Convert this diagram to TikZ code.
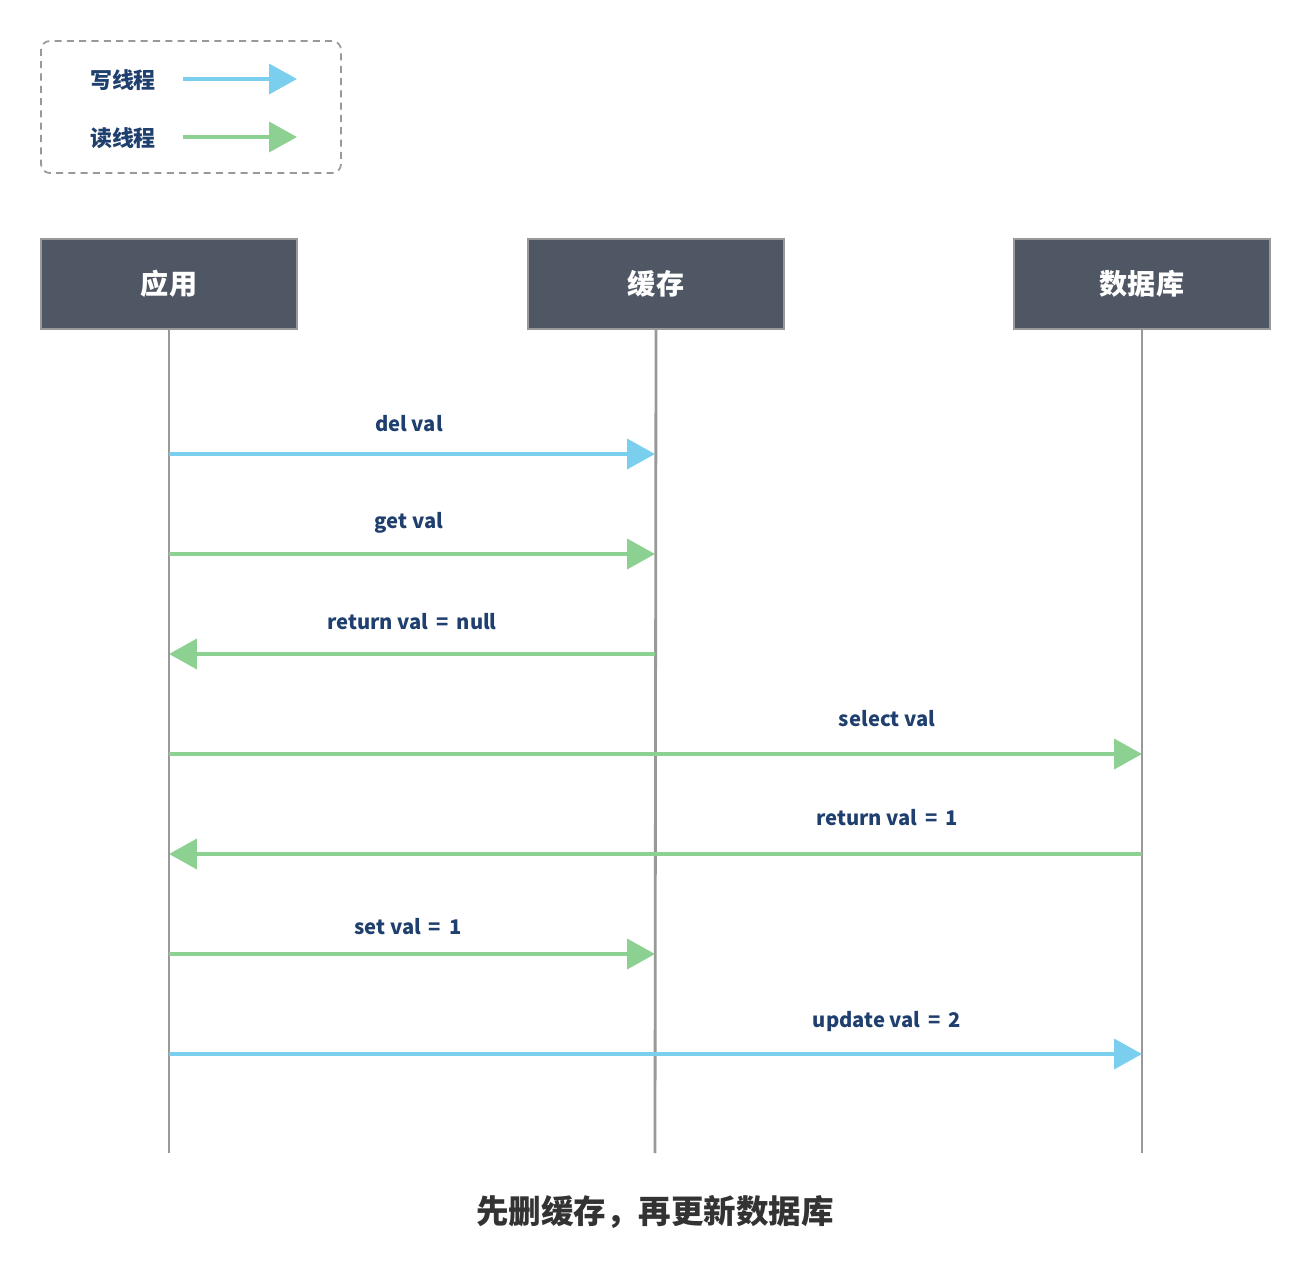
\documentclass[tikz,border=0pt]{standalone}
\usepackage{fontspec}
\setmainfont{Noto Sans CJK SC}
\usetikzlibrary{positioning,arrows.meta}
\definecolor{writec}{HTML}{7ACFEF}
\definecolor{readc}{HTML}{8CD092}
\definecolor{headc}{HTML}{505764}
\definecolor{labelc}{HTML}{1F3F6E}
\definecolor{linec}{HTML}{999999}
\definecolor{titlec}{HTML}{333333}
\newcommand{\eqsp}{\ \,=\ \,}
\begin{document}
\begin{tikzpicture}[x=0.02cm, y=-0.02cm,
  actor/.style={draw=linec, line width=1pt, fill=headc, text=white,
    minimum width=5.12cm, minimum height=1.8cm, font=\bfseries\fontsize{16}{18}\selectfont},
  msg/.style={text=labelc, font=\bfseries\fontsize{11.5}{13}\selectfont},
  lifeline/.style={draw=linec, line width=1.6pt},
  wr/.style={draw=writec, line width=2.2pt, -{Triangle[length=0.56cm, width=0.6cm]}},
  rd/.style={draw=readc, line width=2.2pt, -{Triangle[length=0.56cm, width=0.6cm]}}
]
  \useasboundingbox (0,0) rectangle (1309,1272);

  % legend
  \node[draw=linec, line width=1pt, dash pattern=on 4pt off 3pt, rounded corners=5pt,
    minimum width=6cm, minimum height=2.64cm] (legend) at (191,107) {};
  \node[msg, font=\bfseries\fontsize{12.5}{14}\selectfont] (wlabel) at (123,80) {写线程};
  \node[msg, font=\bfseries\fontsize{12.5}{14}\selectfont] (rlabel) at (123,138) {读线程};
  \coordinate (w1) at (183,79);
  \coordinate (w2) at (297,79);
  \coordinate (r1) at (183,137);
  \coordinate (r2) at (297,137);
  \draw[wr] (w1) -- (w2);
  \draw[rd] (r1) -- (r2);

  % actors
  \node[actor] (app) at (169,284) {\raisebox{-2pt}{应用}};
  \node[actor] (cache) at (656,284) {\raisebox{-2pt}{缓存}};
  \node[actor] (db) at (1142,284) {\raisebox{-2pt}{数据库}};
  \coordinate (append) at (169,1153);
  \coordinate (cacheend) at (655,1153);
  \coordinate (dbend) at (1142,1153);
  \draw[lifeline] (app.south) -- (append);
  \draw[lifeline] (cache.south) -- (cacheend);
  \draw[lifeline] (db.south) -- (dbend);

  % messages
  \coordinate (a1) at (169,454); \coordinate (c1) at (655,454);
  \coordinate (a2) at (169,554); \coordinate (c2) at (655,554);
  \coordinate (a3) at (169,654); \coordinate (c3) at (655,654);
  \coordinate (a4) at (169,754); \coordinate (d4) at (1142,754);
  \coordinate (a5) at (169,854); \coordinate (d5) at (1142,854);
  \coordinate (a6) at (169,954); \coordinate (c6) at (655,954);
  \coordinate (a7) at (169,1054); \coordinate (d7) at (1142,1054);

  \draw[wr] (a1) -- (c1);
  \node[msg] (m1) at (409,424) {del val};
  \draw[rd] (a2) -- (c2);
  \node[msg] (m2) at (409,523) {get val};
  \draw[rd] (c3) -- (a3);
  \node[msg] (m3) at (412,622) {return val\eqsp null};
  \draw[rd] (a4) -- (d4);
  \node[msg] (m4) at (887,719) {select val};
  \draw[rd] (d5) -- (a5);
  \node[msg] (m5) at (887,818) {return val\eqsp 1};
  \draw[rd] (a6) -- (c6);
  \node[msg] (m6) at (408,927) {set val\eqsp 1};
  \draw[wr] (a7) -- (d7);
  \node[msg] (m7) at (887,1022) {update val\eqsp 2};

  \node[text=titlec, font=\bfseries\fontsize{18.5}{21}\selectfont] (title) at (655,1212)
    {先删缓存，再更新数据库};
\end{tikzpicture}
\end{document}
